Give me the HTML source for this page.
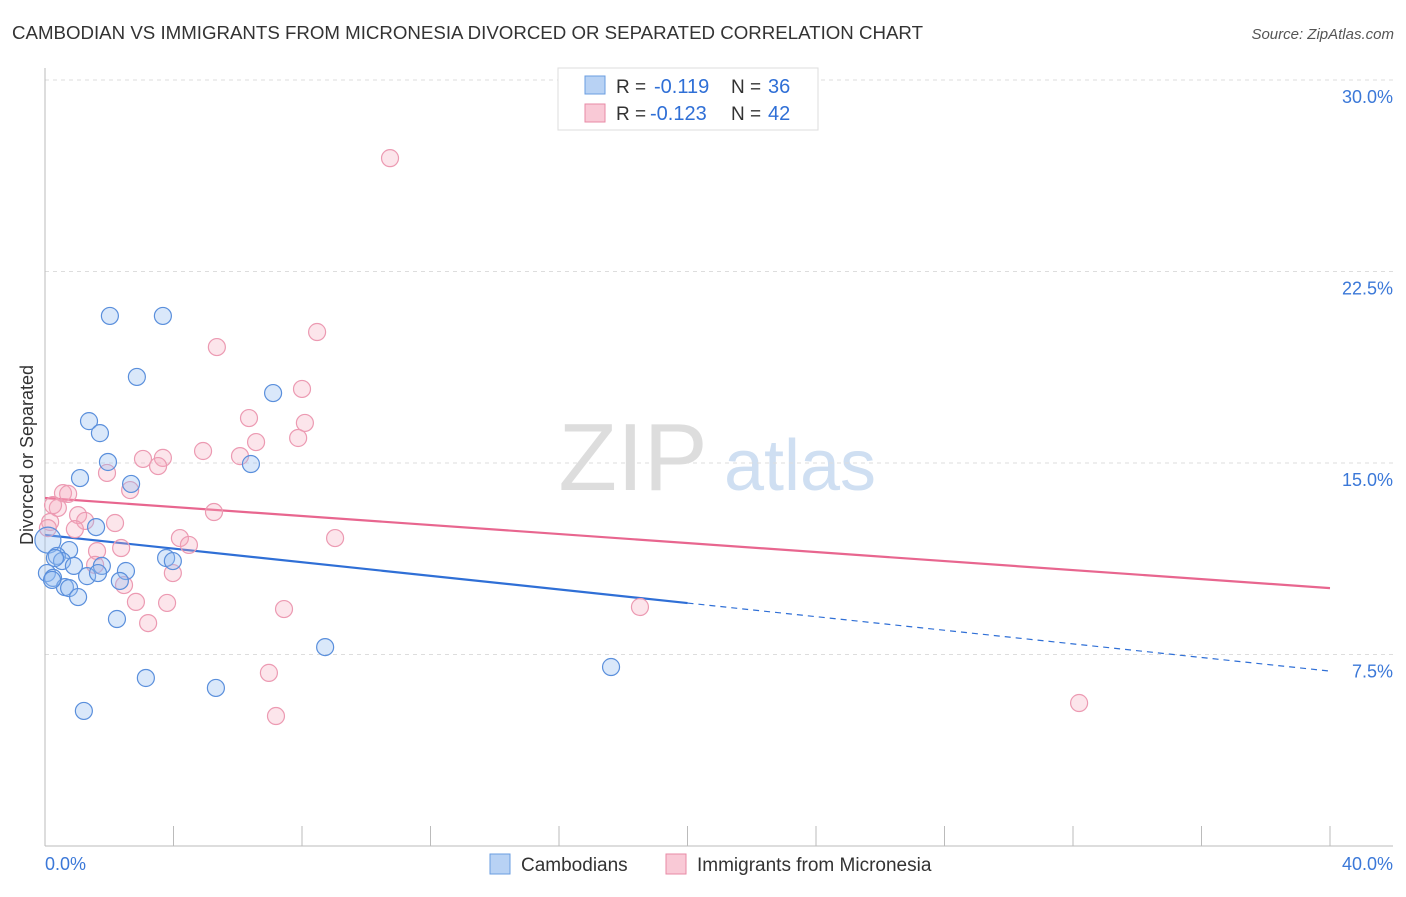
<!DOCTYPE html>
<html><head><meta charset="utf-8"><style>
body{margin:0;background:#fff;font-family:"Liberation Sans",sans-serif;}
svg text{font-family:"Liberation Sans",sans-serif;}
</style></head><body>
<svg width="1406" height="892" viewBox="0 0 1406 892">
<text x="12" y="39" font-size="18" fill="#333" textLength="911" lengthAdjust="spacingAndGlyphs">CAMBODIAN VS IMMIGRANTS FROM MICRONESIA DIVORCED OR SEPARATED CORRELATION CHART</text>
<text x="1394" y="39" font-size="15" fill="#555" font-style="italic" text-anchor="end">Source: ZipAtlas.com</text>
<g>
<text x="633" y="490" font-size="96" fill="#ddd" font-family="Liberation Serif" text-anchor="middle">ZIP</text>
<text x="800" y="490" font-size="72" fill="#cfdff2" text-anchor="middle">atlas</text>
</g>
<g id="grid"></g>
<g id="axes"></g>
<text transform="translate(33,455) rotate(-90)" font-size="18" fill="#333" text-anchor="middle">Divorced or Separated</text>
<g id="lines"></g>
<g id="points"></g>
<g>
<rect x="558" y="68" width="260" height="62" fill="#fff" stroke="#ddd"/>
<rect x="585" y="76" width="20" height="18" fill="#b8d2f4" stroke="#6a9de0"/>
<rect x="585" y="104" width="20" height="18" fill="#f9c9d6" stroke="#e88aa6"/>
<text x="616" y="93" font-size="19" fill="#333">R =</text>
<text x="654" y="93" font-size="20" fill="#2f6fd6">-0.119</text>
<text x="731" y="93" font-size="19" fill="#333">N =</text>
<text x="768" y="93" font-size="20" fill="#2f6fd6">36</text>
<text x="616" y="120" font-size="19" fill="#333">R =</text>
<text x="650" y="120" font-size="20" fill="#2f6fd6">-0.123</text>
<text x="731" y="120" font-size="19" fill="#333">N =</text>
<text x="768" y="120" font-size="20" fill="#2f6fd6">42</text>
</g>
<g>
<rect x="490" y="854" width="20" height="20" fill="#b8d2f4" stroke="#6a9de0"/>
<text x="521" y="871" font-size="19" fill="#333">Cambodians</text>
<rect x="666" y="854" width="20" height="20" fill="#f9c9d6" stroke="#e88aa6"/>
<text x="697" y="871" font-size="19" fill="#333">Immigrants from Micronesia</text>
</g>
</svg>
<script>
const yTicks=[7.5,15,22.5,30];
const yTickLabels=["7.5%","15.0%","22.5%","30.0%"];
const xTickLabels=["0.0%","40.0%"];
const blueX=[0.09,2.02,3.67,2.86,7.10,1.37,1.71,1.96,6.41,1.09,2.68,1.59,0.75,0.37,0.53,0.31,0.90,1.77,0.06,0.25,1.31,1.65,0.62,0.75,1.03,2.52,2.33,3.77,3.98,2.24,8.72,17.62,3.14,5.32,1.21,0.22];
const blueY=[11.98,20.76,20.76,18.37,17.74,16.64,16.17,15.04,14.96,14.41,14.18,12.49,11.59,11.36,11.16,11.28,10.97,10.97,10.69,10.50,10.57,10.69,10.14,10.10,9.75,10.77,10.38,11.28,11.16,8.89,7.79,7.01,6.58,6.19,5.29,10.42];
const pinkX=[10.74,8.47,5.35,8.00,6.35,8.09,6.57,7.88,4.92,6.07,3.05,3.67,3.52,1.93,2.65,5.26,0.56,0.72,0.40,0.25,0.16,1.03,1.25,0.93,2.18,4.20,4.48,2.37,1.62,1.56,2.46,2.83,3.80,3.21,3.98,7.44,9.03,18.52,6.97,7.19,32.19,0.09];
const pinkY=[26.94,20.13,19.54,17.90,16.76,16.57,15.82,15.98,15.47,15.27,15.16,15.20,14.88,14.61,13.94,13.08,13.82,13.79,13.24,13.35,12.69,12.96,12.73,12.41,12.65,12.06,11.79,11.67,11.55,11.01,10.22,9.56,9.52,8.73,10.69,9.28,12.06,9.36,6.78,5.09,5.60,12.45];
const blueTrend=[12.18,6.85];
const pinkTrend=[13.63,10.10];
const xs=v=>45+v/40*1285;
const ys=v=>846-v/30*766;
const NS="http://www.w3.org/2000/svg";
function mk(tag,attrs,parent){const e=document.createElementNS(NS,tag);for(const k in attrs)e.setAttribute(k,attrs[k]);document.getElementById(parent).appendChild(e);return e;}
yTicks.forEach((t,i)=>{
 const l=mk('line',{x1:45,x2:1393,y1:ys(t),y2:ys(t),stroke:'#ddd','stroke-dasharray':'4,4'},'grid');
 
 
 const tx=mk('text',{x:1393,y:ys(t)+23,'font-size':18,fill:'#3b78d8','text-anchor':'end'},'grid');
 tx.textContent=yTickLabels[i];
 
 
});
let a=mk('line',{x1:45,x2:45,y1:68,y2:846,stroke:'#bbb'},'axes');


a=mk('line',{x1:45,x2:1393,y1:846,y2:846,stroke:'#bbb'},'axes');


for(let i=1;i<=10;i++){const t=mk('line',{x1:xs(i*4),x2:xs(i*4),y1:826,y2:846,stroke:'#bbb'},'axes');
 
 }
[[0,'start',45],[40,'end',1393]].forEach((d,i)=>{const t=mk('text',{x:d[2],y:870,'font-size':18,fill:'#3b78d8','text-anchor':d[1]},'axes');t.textContent=xTickLabels[i];
 
 });
function pts(X,Y,fill,stroke,name){X.forEach((x,i)=>{const c=mk('circle',{cx:xs(x),cy:ys(Y[i]),r:i===0&&name==='cambodian-point'?13:8.5,fill:fill,stroke:stroke,'stroke-width':1.2},'points');
 
 });}
pts(pinkX,pinkY,'rgba(244,168,190,0.3)','#ec9ab2','micronesia-point');
pts(blueX,blueY,'rgba(150,190,240,0.35)','#5a8fdc','cambodian-point');
const by=x=>blueTrend[0]+(blueTrend[1]-blueTrend[0])*x/40;
let l=mk('line',{x1:xs(0),y1:ys(by(0)),x2:xs(20),y2:ys(by(20)),stroke:'#2f6fd6','stroke-width':2.2},'lines');


l=mk('line',{x1:xs(20),y1:ys(by(20)),x2:xs(40),y2:ys(by(40)),stroke:'#2f6fd6','stroke-width':1.2,'stroke-dasharray':'6,5'},'lines');


l=mk('line',{x1:xs(0),y1:ys(pinkTrend[0]),x2:xs(40),y2:ys(pinkTrend[1]),stroke:'#e8668f','stroke-width':2.2},'lines');


</script>
</body></html>
